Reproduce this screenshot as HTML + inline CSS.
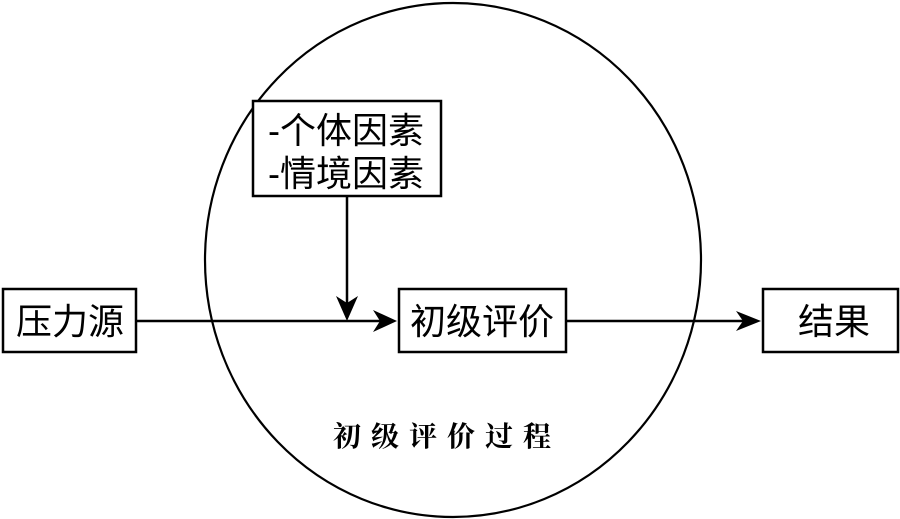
<!DOCTYPE html>
<html><head><meta charset="utf-8"><style>
body{margin:0;background:#fff;}
svg{display:block}
text{font-family:"Liberation Sans","Noto Sans CJK SC",sans-serif;fill:#000}
</style></head><body>
<svg width="900" height="519" viewBox="0 0 900 519">
<ellipse cx="453" cy="260" rx="248" ry="257" fill="none" stroke="#000" stroke-width="2.2"/>
<rect x="3" y="289" width="133" height="63" fill="#fff" stroke="#000" stroke-width="2.5"/>
<text x="70" y="334" font-size="36" text-anchor="middle">压力源</text>
<rect x="253" y="101" width="188" height="95" fill="#fff" stroke="#000" stroke-width="2.5"/>
<text x="268" y="143" font-size="36">-个体因素</text>
<text x="268" y="186" font-size="36">-情境因素</text>
<rect x="399" y="289" width="167" height="63" fill="#fff" stroke="#000" stroke-width="2.5"/>
<text x="482" y="334" font-size="36" text-anchor="middle">初级评价</text>
<rect x="763" y="289" width="135" height="63" fill="#fff" stroke="#000" stroke-width="2.5"/>
<text x="834" y="334" font-size="36" text-anchor="middle">结果</text>
<line x1="136" y1="321" x2="385" y2="321" stroke="#000" stroke-width="2.5"/>
<polygon points="397,321 373,310 380,321 373,332" fill="#000"/>
<line x1="347" y1="196" x2="347" y2="310" stroke="#000" stroke-width="2.5"/>
<polygon points="347,321 336,296 347,303 358,296" fill="#000"/>
<line x1="566" y1="321" x2="750" y2="321" stroke="#000" stroke-width="2.5"/>
<polygon points="761,321 736,311 743,321 736,331" fill="#000"/>
<text x="333" y="446" font-size="28" letter-spacing="10" style="font-family:'Noto Serif CJK SC',serif;font-weight:bold">初级评价过程</text>
</svg>
</body></html>
